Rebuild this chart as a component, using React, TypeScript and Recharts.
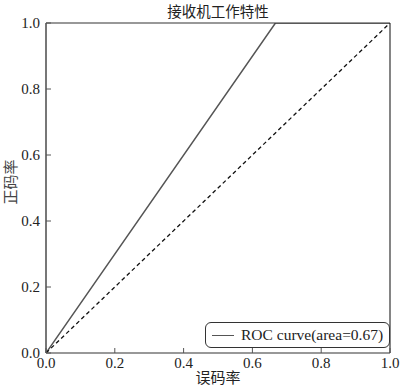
import { LineChart, Line, XAxis, YAxis, Legend } from 'recharts';

const ticks = [0, 0.2, 0.4, 0.6, 0.8, 1.0];
const tickLabels = ['0.0', '0.2', '0.4', '0.6', '0.8', '1.0'];
const rocFpr = [0, 0.667, 1];
const rocTpr = [0, 1, 1];
const chanceFpr = [0, 1];
const chanceTpr = [0, 1];

const rocData = rocFpr.map((x, i) => ({ x, y: rocTpr[i] }));
const chanceData = chanceFpr.map((x, i) => ({ x, y: chanceTpr[i] }));

const SERIF = '"Liberation Serif", "Times New Roman", serif';
const CJK = '"Noto Sans CJK SC", sans-serif';
const AXIS = '#555';

function fmt(v: number) {
  const i = ticks.indexOf(v);
  return i >= 0 ? tickLabels[i] : v.toFixed(1);
}

// ticks point inward, labels sit outside
function XTick({ x, y, payload }: any) {
  return (
    <g>
      <line x1={x} x2={x} y1={y} y2={y - 5} stroke={AXIS} strokeWidth={1} />
      <text x={x} y={y + 15} textAnchor="middle" fontFamily={SERIF} fontSize={15} fill="#222">
        {fmt(payload.value)}
      </text>
    </g>
  );
}

function YTick({ x, y, payload }: any) {
  return (
    <g>
      <line x1={x} x2={x + 5} y1={y} y2={y} stroke={AXIS} strokeWidth={1} />
      <text x={x - 6} y={y + 5} textAnchor="end" fontFamily={SERIF} fontSize={15} fill="#222">
        {fmt(payload.value)}
      </text>
    </g>
  );
}

function LegendBox() {
  return (
    <div
      style={{
        border: '1px solid #333',
        borderRadius: 6,
        padding: '3px 6px',
        display: 'flex',
        alignItems: 'center',
        background: '#fff',
        fontFamily: SERIF,
        fontSize: 15.5,
        color: '#222',
        whiteSpace: 'nowrap',
      }}
    >
      <span style={{ display: 'inline-block', width: 22, borderTop: '1.5px solid #555', marginRight: 7 }} />
      ROC curve(area=0.67)
    </div>
  );
}

export default function App() {
  return (
    <div style={{ position: 'absolute', left: 0, top: 0, width: 400, height: 388, background: '#fff' }}>
      <LineChart width={400} height={388} margin={{ top: 22, right: 9, bottom: 34, left: 45 }}>
        <XAxis
          dataKey="x"
          type="number"
          domain={[0, 1]}
          ticks={ticks}
          height={1}
          tickSize={0}
          tickMargin={0}
          tickLine={false}
          tick={<XTick />}
          stroke="#333"
          strokeWidth={1.2}
          allowDataOverflow
        />
        <XAxis
          xAxisId="top"
          orientation="top"
          dataKey="x"
          type="number"
          domain={[0, 1]}
          height={1}
          tick={false}
          tickLine={false}
          stroke="#333"
          strokeWidth={1.2}
        />
        <YAxis
          dataKey="y"
          type="number"
          domain={[0, 1]}
          ticks={ticks}
          width={1}
          tickSize={0}
          tickMargin={0}
          tickLine={false}
          tick={<YTick />}
          stroke={AXIS}
          strokeWidth={1.6}
          allowDataOverflow
        />
        <YAxis
          yAxisId="right"
          orientation="right"
          dataKey="y"
          type="number"
          domain={[0, 1]}
          width={1}
          tick={false}
          tickLine={false}
          stroke="#333"
          strokeWidth={1.2}
        />
        <Line
          data={rocData}
          dataKey="y"
          type="linear"
          stroke="#555"
          strokeWidth={1.5}
          dot={false}
          isAnimationActive={false}
          name="ROC"
        />
        <Line
          data={chanceData}
          dataKey="y"
          type="linear"
          stroke="#111"
          strokeWidth={1.3}
          strokeDasharray="4 3"
          dot={false}
          isAnimationActive={false}
          legendType="none"
        />
        <Legend
          layout="horizontal"
          verticalAlign="middle"
          align="center"
          content={<LegendBox />}
          wrapperStyle={{ position: 'absolute', left: 205, top: 322, width: 'auto' }}
        />
      </LineChart>
      <div
        style={{
          position: 'absolute', left: 46, width: 344, top: 0, textAlign: 'center',
          fontFamily: CJK, fontSize: 14.5, color: '#222', lineHeight: 'normal',
        }}
      >
        接收机工作特性
      </div>
      <div
        style={{
          position: 'absolute', left: 46, width: 344, top: 368, textAlign: 'center',
          fontFamily: CJK, fontSize: 15, color: '#222', lineHeight: '18px',
        }}
      >
        误码率
      </div>
      <div
        style={{
          position: 'absolute', left: -20, top: 174, width: 60, textAlign: 'center',
          transform: 'rotate(-90deg)', fontFamily: CJK, fontSize: 15, color: '#444', lineHeight: '16px',
        }}
      >
        正码率
      </div>
    </div>
  );
}
